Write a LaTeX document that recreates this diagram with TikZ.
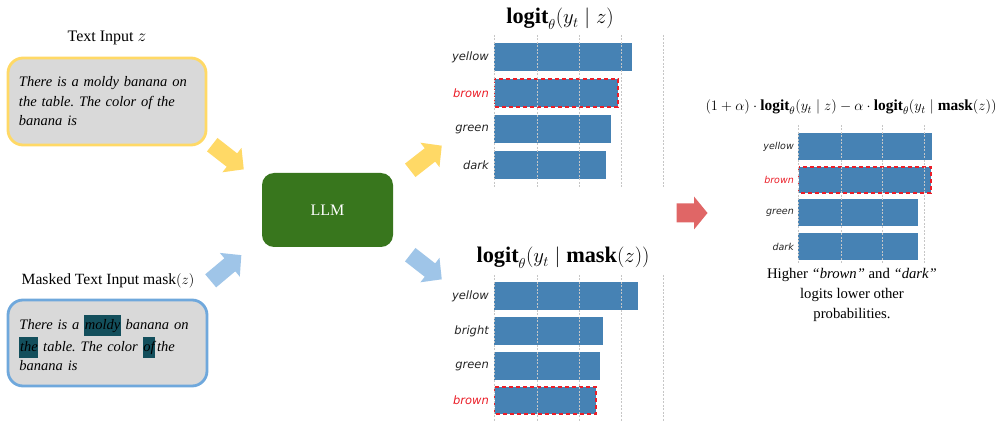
\documentclass[tikz,border=0pt]{standalone}
\usepackage{fontspec}
\setmainfont{Liberation Serif}
\newfontfamily\labfont{DejaVu Sans}
\definecolor{boxgray}{HTML}{D9D9D9}
\definecolor{inyellow}{HTML}{FFD966}
\definecolor{inblue}{HTML}{6FA8DC}
\definecolor{arrblue}{HTML}{9FC5E8}
\definecolor{llmgreen}{HTML}{38761D}
\definecolor{arrred}{HTML}{E06666}
\definecolor{barblue}{RGB}{70,130,180}
\definecolor{maskteal}{RGB}{19,79,92}
\definecolor{brownred}{RGB}{235,30,40}
\newcommand{\mhl}[1]{{\setlength{\fboxsep}{0.6pt}\colorbox{maskteal}{\strut #1}}}
\frenchspacing
\begin{document}
\begin{tikzpicture}[x=1pt,y=-1pt,
  inbox/.style={rounded corners=15pt, line width=2.8pt, fill=boxgray, text width=176pt, align=left,
     font=\fontsize{14.5}{19.5}\selectfont\itshape, inner sep=0pt},
  bar/.style={fill=barblue},
  hbar/.style={fill=barblue, draw=brownred, line width=1.3pt, dash pattern=on 4.5pt off 2.5pt},
  grid/.style={draw=gray!45, line width=0.5pt, dash pattern=on 2pt off 1.5pt},
  lab/.style={anchor=east, font=\fontsize{11.5}{13}\labfont\itshape, text=black!85, inner sep=0pt},
  labs/.style={anchor=east, font=\fontsize{9.5}{11}\labfont\itshape, text=black!85, inner sep=0pt},
  ctitle/.style={anchor=base, inner sep=0pt, font=\fontsize{22.3}{25}\selectfont},
]
\useasboundingbox[fill=white] (0,0) rectangle (997,422);

% inputs
\node[font=\fontsize{16}{19}\selectfont] (t1) at (107,38) {Text Input $z$};
\node[inbox, draw=inyellow, minimum width=198pt, minimum height=87pt] (box1) at (107,101.5)
  {There is a moldy banana on the table. The color of the banana is};
\node[font=\fontsize{15.6}{19}\selectfont] (t2) at (108,281) {Masked Text Input mask$(z)$};
\node[inbox, draw=inblue, minimum width=199pt, minimum height=86pt] (box2) at (107.5,343)
  {There is a \mhl{moldy} banana on \mhl{the} table. The color \mhl{of}\hspace{2pt}the banana is};

% LLM
\node[fill=llmgreen, rounded corners=12pt, minimum width=131pt, minimum height=74pt,
  text=white, font=\fontsize{16}{18}\selectfont] (llm) at (327.5,210) {LLM};

% block arrows (drawn as shapes)
\foreach \cx/\cy/\ang/\col in {228/157/-38/inyellow, 226/268/40/arrblue, 426/158/38/inyellow, 426/267/-38/arrblue}{
  \begin{scope}[shift={(\cx,\cy)}, rotate=\ang]
    \fill[\col] (-20,-8.5) -- (5,-8.5) -- (5,-15.5) -- (20,0) -- (5,15.5) -- (5,8.5) -- (-20,8.5) -- cycle;
  \end{scope}
}
\begin{scope}[shift={(692,213)}]
  \fill[arrred] (-15.5,-9.5) -- (2,-9.5) -- (2,-16.5) -- (15.5,0) -- (2,16.5) -- (2,9.5) -- (-15.5,9.5) -- cycle;
\end{scope}

% chart 1
\node[ctitle] (h1) at (560,24) {$\mathbf{logit}_\theta(y_t\mid z)$};
\fill[bar] (494,43) rectangle (632,71);
\fill[hbar] (494.7,79) rectangle (618,107);
\fill[bar] (494,115) rectangle (611,143);
\fill[bar] (494,151) rectangle (606,179);
\foreach \gx in {494,537,579,621,663} \draw[grid] (\gx,35) -- (\gx,187);
\node[lab] (c1a) at (489,57) {yellow};
\node[lab, text=brownred] (c1b) at (489,93) {brown};
\node[lab] (c1c) at (489,129) {green};
\node[lab] (c1d) at (489,165) {dark};

% chart 2
\node[ctitle] (h2) at (563,263) {$\mathbf{logit}_\theta(y_t\mid \mathbf{mask}(z))$};
\fill[bar] (494,282) rectangle (638,310);
\fill[bar] (494,317) rectangle (603,345);
\fill[bar] (494,352) rectangle (600,380);
\fill[hbar] (494.7,387) rectangle (596,414);
\foreach \gx in {494,537,579,621,663} \draw[grid] (\gx,275) -- (\gx,422);
\node[lab] (c2a) at (489,296) {yellow};
\node[lab] (c2b) at (489,331) {bright};
\node[lab] (c2c) at (489,366) {green};
\node[lab, text=brownred] (c2d) at (489,400) {brown};

% chart 3
\node[anchor=base, inner sep=0pt, font=\fontsize{15.4}{17}\selectfont] (h3) at (851,111)
  {$(1+\alpha)\cdot\mathbf{logit}_\theta(y_t\mid z)-\alpha\cdot\mathbf{logit}_\theta(y_t\mid \mathbf{mask}(z))$};
\fill[bar] (798,133) rectangle (932,160);
\fill[hbar] (798.6,167) rectangle (931,193);
\fill[bar] (798,199) rectangle (918,226);
\fill[bar] (798,233) rectangle (918,260);
\foreach \gx in {798,841,882,924} \draw[grid] (\gx,125) -- (\gx,265);
\node[labs] (c3a) at (794,146.5) {yellow};
\node[labs, text=brownred] (c3b) at (794,180) {brown};
\node[labs] (c3c) at (794,212.5) {green};
\node[labs] (c3d) at (794,246.5) {dark};
\node[align=center, font=\fontsize{14.7}{20}\selectfont] (cap) at (852,295)
  {Higher \textit{``brown''} and \textit{``dark''}\\ logits lower other\\ probabilities.};
\end{tikzpicture}
\end{document}
